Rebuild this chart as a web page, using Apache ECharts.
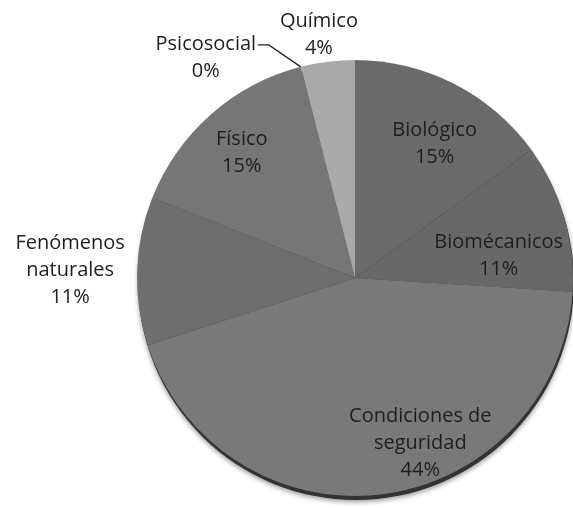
<!DOCTYPE html>
<html>
<head>
<meta charset="utf-8">
<script src="https://cdn.jsdelivr.net/npm/echarts@6/dist/echarts.min.js"></script>
<style>
  html, body { margin: 0; padding: 0; background: #fff; }
  #main { width: 573px; height: 509px; }
</style>
</head>
<body>
<div id="main"></div>
<script>
  var categorias = ['Biológico', 'Biomécanicos', 'Condiciones de seguridad', 'Fenómenos naturales', 'Físico', 'Psicosocial', 'Químico'];
  var valores = [15, 11, 44, 11, 15, 0, 4];
  var etiquetas = ['Biológico', 'Biomécanicos', 'Condiciones de\nseguridad', 'Fenómenos\nnaturales', 'Físico', 'Psicosocial', 'Químico'];
  var colores = ['#6a6a6a', '#686868', '#797979', '#6e6e6e', '#767676', '#8a8a8a', '#a9a9a9'];
  var fuera = ['Fenómenos naturales', 'Psicosocial', 'Químico'];

  var chart = echarts.init(document.getElementById('main'), null, { renderer: 'canvas' });

  var centro = [355, 278];
  var R = 218;
  var fuente = 'Open Sans';
  var tam = 20;

  // medir el ancho de cada línea para centrarlas entre sí
  var ctx = document.createElement('canvas').getContext('2d');
  ctx.font = tam + 'px "' + fuente + '"';

  var datos = [];
  var datosEtiqueta = [];
  for (var i = 0; i < categorias.length; i++) {
    var esFuera = fuera.indexOf(categorias[i]) >= 0;
    datos.push({
      name: categorias[i],
      value: valores[i],
      itemStyle: { color: colores[i] },
      label: { show: esFuera },
      labelLine: { show: categorias[i] === 'Psicosocial' }
    });
    datosEtiqueta.push({
      name: categorias[i],
      value: valores[i],
      label: { show: !esFuera }
    });
  }

  function texto(p) {
    var lineas = etiquetas[p.dataIndex].split('\n');
    lineas.push(Math.round(p.percent) + '%');
    var ancho = 0;
    lineas.forEach(function (l) { ancho = Math.max(ancho, Math.ceil(ctx.measureText(l).width)); });
    return lineas.map(function (l) { return '{t' + ancho + '|' + l + '}'; }).join('\n');
  }

  var rich = {};
  for (var w = 10; w < 260; w++) {
    rich['t' + w] = { width: w, align: 'center', fontSize: tam, lineHeight: 27, color: '#1e1e1e', fontFamily: fuente };
  }

  // ajustes finos de las etiquetas
  var desp = {
    'Biológico': [6, 10],
    'Biomécanicos': [-12, 23],
    'Condiciones de seguridad': [45, 4],
    'Físico': [-6, -4],
    'Fenómenos naturales': [-26, 0],
    'Psicosocial': [-20, 12],
    'Químico': [13, -5]
  };

  option = {
    animation: false,
    series: [
      {
        // borde inferior oscuro (efecto 3D)
        type: 'pie',
        silent: true,
        center: [centro[0] + 1, centro[1] + 4],
        radius: R,
        label: { show: false },
        data: [{ value: 1, itemStyle: { color: '#333', shadowColor: 'rgba(0,0,0,0.4)', shadowBlur: 5, shadowOffsetY: 2 } }],
        z: 1
      },
      {
        name: 'Riesgos',
        type: 'pie',
        center: centro,
        radius: R,
        startAngle: 90,
        clockwise: true,
        avoidLabelOverlap: false,
        minShowLabelAngle: 0,
        percentPrecision: 0,
        label: {
          position: 'outside',
          formatter: texto,
          rich: rich
        },
        labelLine: {
          length: 22,
          length2: 14,
          lineStyle: { color: '#222', width: 1.3 }
        },
        labelLayout: function (p) {
          var nombre = categorias[p.dataIndex];
          var d = desp[nombre];
          var r = { dx: d[0], dy: d[1] };
          if (nombre !== 'Psicosocial') {
            r.align = 'center';
          } else if (p.labelLinePoints) {
            // guía quebrada: diagonal desde el borde y tramo horizontal hasta el texto
            var p0 = p.labelLinePoints[0];
            r.labelLinePoints = [
              [p0[0], p0[1]],
              [p0[0] - 32, p0[1] - 22],
              [p0[0] - 43, p0[1] - 22]
            ];
          }
          return r;
        },
        itemStyle: { borderWidth: 0 },
        data: datos,
        z: 2
      },
      {
        // etiquetas interiores
        type: 'pie',
        silent: true,
        center: centro,
        radius: [R * 0.46, R],
        startAngle: 90,
        clockwise: true,
        percentPrecision: 0,
        itemStyle: { color: 'rgba(0,0,0,0)' },
        label: {
          position: 'inside',
          formatter: texto,
          rich: rich
        },
        labelLayout: function (p) {
          var d = desp[categorias[p.dataIndex]];
          return { dx: d[0], dy: d[1] };
        },
        data: datosEtiqueta,
        z: 3
      }
    ]
  };

  chart.setOption(option);
</script>
</body>
</html>
